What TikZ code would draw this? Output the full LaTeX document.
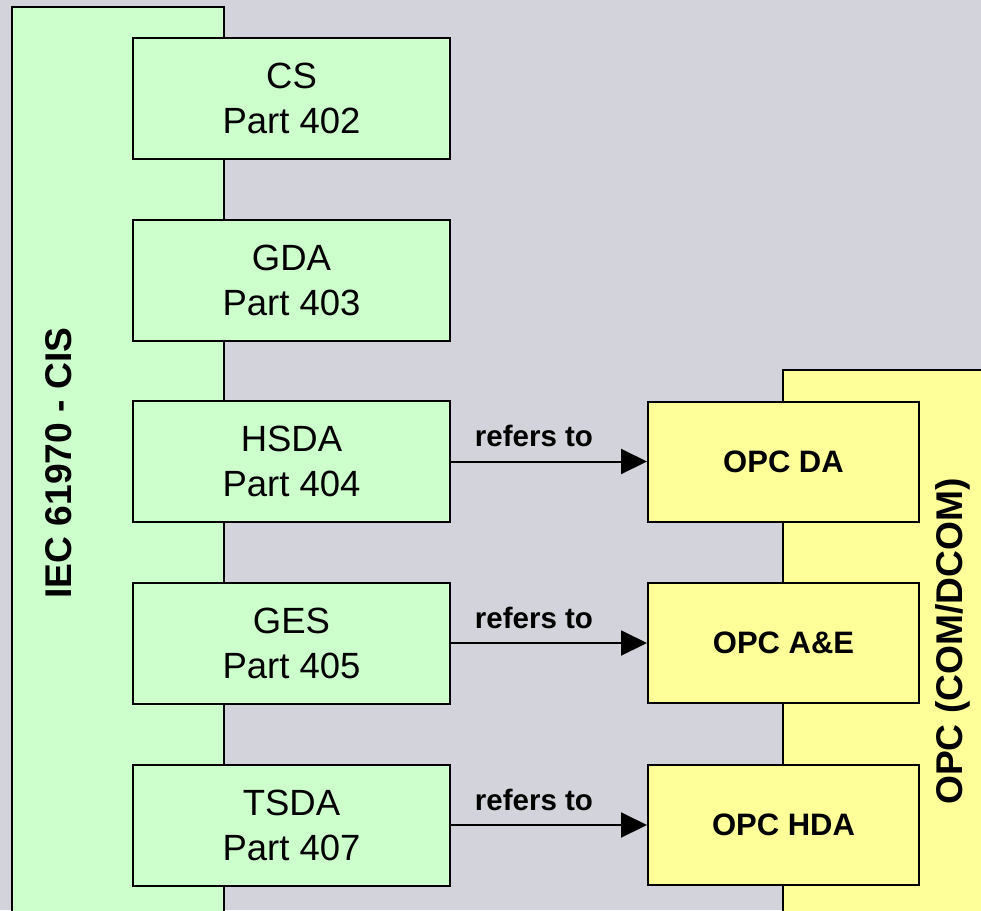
\documentclass[tikz,border=0pt]{standalone}
\usepackage{fontspec}
\setmainfont{Liberation Sans}
\usetikzlibrary{arrows.meta}
\definecolor{bggray}{RGB}{210,211,219}
\definecolor{cisgreen}{RGB}{204,255,204}
\definecolor{opcyellow}{RGB}{255,255,153}

\begin{document}
\begin{tikzpicture}[x=1pt,y=-1pt,
  band/.style={draw=black, line width=2pt},
  part/.style={draw=black, line width=2pt, fill=cisgreen, minimum width=317pt,
    minimum height=121pt, align=center, inner sep=0pt,
    font=\fontsize{36.5}{45}\selectfont},
  opcbox/.style={draw=black, line width=2pt, fill=opcyellow, minimum width=271pt,
    minimum height=120pt, inner sep=0pt, font=\bfseries\fontsize{31}{37}\selectfont},
  refarrow/.style={line width=2pt, -{Triangle[length=26pt,width=25pt]}},
  reflabel/.style={font=\bfseries\fontsize{29.5}{35}\selectfont},
  bandlabel/.style={rotate=90, inner sep=0pt, font=\bfseries\fontsize{37.2}{44}\selectfont}
]
\useasboundingbox (0,0) rectangle (981,910);
\clip (0,0) rectangle (981,910);
\fill[bggray] (0,0) rectangle (981,910);

% the two standard families as tall bands
\draw[band, fill=cisgreen] (12,7) rectangle (224,940);
\draw[band, fill=opcyellow] (783,370) rectangle (1010,940);
\node[bandlabel] (cis) at (59,463) {IEC 61970 - CIS};
\node[bandlabel] (opc) at (953,641.5) {OPC (COM/DCOM)};

% CIS parts
\node[part] (cs)   at (291.5,98.5)  {CS\\Part 402};
\node[part] (gda)  at (291.5,280.5) {GDA\\Part 403};
\node[part] (hsda) at (291.5,461.5) {HSDA\\Part 404};
\node[part] (ges)  at (291.5,643)   {GES\\Part 405};
\node[part] (tsda) at (291.5,825)   {TSDA\\Part 407};

% OPC specifications
\node[opcbox] (opcda)  at (783.5,461.5) {OPC DA};
\node[opcbox] (opcae)  at (783.5,643)   {OPC A\&E};
\node[opcbox] (opchda) at (783.5,825)   {OPC HDA};

% references
\draw[refarrow] (hsda.east) -- (opcda.west);
\draw[refarrow] (ges.east)  -- (opcae.west);
\draw[refarrow] (tsda.east) -- (opchda.west);
\node[reflabel] (r1) at (534,436) {refers to};
\node[reflabel] (r2) at (534,617.5) {refers to};
\node[reflabel] (r3) at (534,799.5) {refers to};
\end{tikzpicture}
\end{document}
